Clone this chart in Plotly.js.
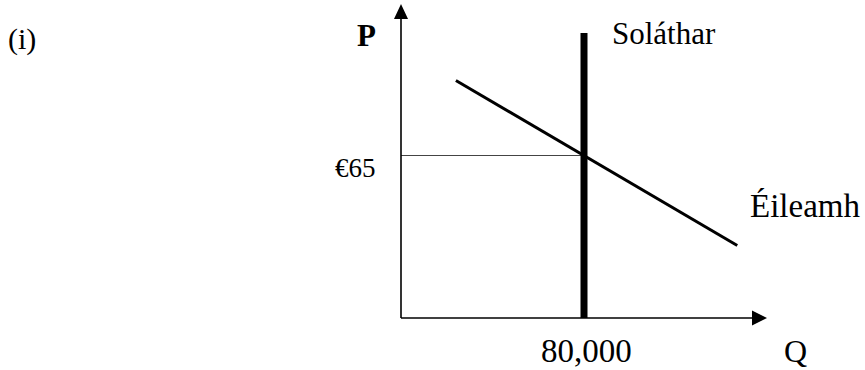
<!DOCTYPE html>
<html><head><meta charset="utf-8">
<script src="https://cdn.plot.ly/plotly-3.0.1.min.js"></script>
<style>html,body{margin:0;padding:0;background:#fff}</style>
</head><body>
<div id="chart" style="width:865px;height:370px"></div>
<script>
// ---- data ----
const axisMaxQ = 160000;          // end of the quantity axis (arrow tip)
const axisMaxP = 125.6;           // end of the price axis (arrow tip)
const demandQ = [24000, 147000];
const demandP = [95, 29];
const supplyQ = [80000, 80000];
const supplyP = [0, 114];
const eqQ = 80000;
const eqP = 65;
const priceLabel = '€65';
const quantityLabel = '80,000';
const supplyLabel = 'Soláthar';
const demandLabel = 'Éileamh';
const pAxisLabel = 'P';
const qAxisLabel = 'Q';
const partLabel = '(i)';

// ---- layout geometry (pixels) ----
const W = 865, H = 370;
const X0PX = 401, XENDPX = 767, Y0PX = 318, YTOPPX = 4;
const qPerPx = axisMaxQ / (XENDPX - X0PX);
const pPerPx = axisMaxP / (Y0PX - YTOPPX);
const qAt = px => (px - X0PX) * qPerPx;
const pAt = py => (Y0PX - py) * pPerPx;

const black = '#000';
const serifFamily = 'Liberation Serif';

function line(x, y, width, color) {
  return {type: 'scatter', mode: 'lines', x: x, y: y, hoverinfo: 'skip',
          line: {color: color || black, width: width}, showlegend: false, cliponaxis: false};
}

function ann(text, xpx, ypx, xanchor, size, bold) {
  return {text: bold ? '<b>' + text + '</b>' : text, x: qAt(xpx), y: pAt(ypx), xref: 'x', yref: 'y',
          xanchor: xanchor, yanchor: 'middle', showarrow: false,
          font: {family: serifFamily, size: size, color: black}};
}

const traces = [
  line([0, eqQ], [eqP, eqP], 1, '#444'),
  line([0, 0], [0, axisMaxP - 14 * pPerPx], 1.6),
  line([0, axisMaxQ - 14 * qPerPx], [0, 0], 1.6),
  line(demandQ, demandP, 3),
  line(supplyQ, supplyP, 7)
];

const shapes = [
  {type: 'path', xref: 'x', yref: 'y', fillcolor: black, line: {width: 0},
   path: `M ${-7*qPerPx},${axisMaxP - 15*pPerPx} L ${7*qPerPx},${axisMaxP - 15*pPerPx} L 0,${axisMaxP} Z`},
  {type: 'path', xref: 'x', yref: 'y', fillcolor: black, line: {width: 0},
   path: `M ${axisMaxQ - 15*qPerPx},${-7.5*pPerPx} L ${axisMaxQ - 15*qPerPx},${7.5*pPerPx} L ${axisMaxQ},0 Z`}
];

const annotations = [
  ann(partLabel, 6, 39, 'left', 30),
  ann(pAxisLabel, 355, 35, 'left', 31, true),
  ann(supplyLabel, 610, 33, 'left', 31),
  ann(priceLabel, 378, 168, 'right', 27),
  ann(demandLabel, 748, 206, 'left', 33),
  ann(quantityLabel, 586, 351, 'center', 33),
  ann(qAxisLabel, 782, 351, 'left', 32)
];

const layout = {
  width: W, height: H,
  margin: {l: 0, r: 0, t: 0, b: 0},
  paper_bgcolor: '#fff', plot_bgcolor: '#fff',
  xaxis: {range: [qAt(0), qAt(W)], visible: false, fixedrange: true},
  yaxis: {range: [pAt(H), pAt(0)], visible: false, fixedrange: true},
  shapes: shapes,
  annotations: annotations,
  showlegend: false
};

Plotly.newPlot('chart', traces, layout, {displayModeBar: false, staticPlot: true});
</script>
</body></html>
